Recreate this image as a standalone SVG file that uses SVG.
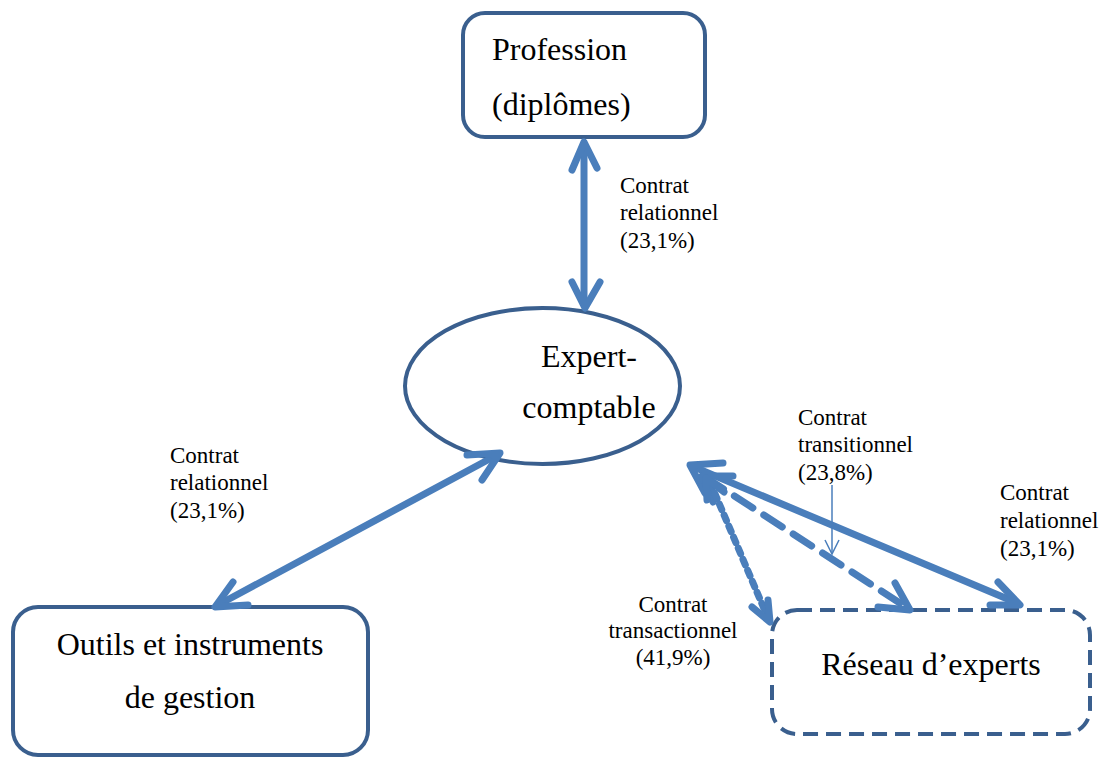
<svg xmlns="http://www.w3.org/2000/svg" width="1107" height="758" viewBox="0 0 1107 758">
<style>
.node{fill:#fff;stroke:#3a5f8e;stroke-width:4}
.big{font-family:"Liberation Serif","Times New Roman",serif;font-size:32px;fill:#000}
.sm{font-family:"Liberation Serif","Times New Roman",serif;font-size:23px;fill:#000}
.c{fill:none;stroke:#4a7ebb;stroke-width:7;stroke-linecap:round;stroke-linejoin:round}
.h{fill:none;stroke:#4a7ebb;stroke-width:7;stroke-linecap:round;stroke-linejoin:round}
</style>
<rect width="1107" height="758" fill="#fff"/>
<g id="profession">
<rect class="node" x="463" y="13" width="242" height="124" rx="22"/>
<text class="big" x="492" y="60">Profession</text>
<text class="big" x="492" y="115">(diplômes)</text>
</g>
<g id="expert">
<ellipse class="node" cx="542.5" cy="386" rx="137.5" ry="78"/>
<text class="big" x="589" y="367" text-anchor="middle">Expert-</text>
<text class="big" x="589" y="418" text-anchor="middle">comptable</text>
</g>
<g id="outils">
<rect class="node" x="13" y="607" width="355" height="148" rx="25"/>
<text class="big" x="190" y="655" text-anchor="middle">Outils et instruments</text>
<text class="big" x="190" y="708" text-anchor="middle">de gestion</text>
</g>
<g id="reseau">
<rect class="node" x="772" y="610" width="318" height="124" rx="25" stroke-dasharray="15 8"/>
<text class="big" x="931" y="675" text-anchor="middle">Réseau d’experts</text>
</g>
<g id="connectors">
<line class="c" x1="584" y1="144" x2="584" y2="304"/>
<path class="h" d="M572,170 L584,142 L597,168"/>
<path class="h" d="M572,282 L585,308 L600,282"/>
<line class="c" x1="497" y1="455" x2="218" y2="605"/>
<path class="h" d="M467,455 L500,453 L482,480"/>
<path class="h" d="M233,582 L215,607 L248,605"/>
<line class="c" x1="694" y1="467" x2="1017" y2="603"/>
<path class="h" d="M723,463 L690,465 L705,493"/>
<path class="h" d="M998,582 L1020,605 L990,605"/>
<line class="c" x1="705" y1="477" x2="906" y2="607" stroke-dasharray="22 13"/>
<path class="h" d="M895,583 L910,610 L878,607"/>
<path class="h" d="M733,476 L702,476 L713,502"/>
<line class="c" x1="710" y1="482" x2="768" y2="618" stroke-dasharray="6 6" stroke-linecap="butt"/>
<path class="h" d="M752,607 L770,622 L768,600"/>
<path class="h" d="M707,500 L706,478 L724,492"/>
<line x1="832" y1="485" x2="832" y2="553" stroke="#4a7ebb" stroke-width="1.5"/>
<path d="M825,540 L832,554 L839,540" fill="none" stroke="#4a7ebb" stroke-width="1.5"/>
</g>
<g id="labels">
<text class="sm" x="620" y="193">Contrat</text>
<text class="sm" x="620" y="220">relationnel</text>
<text class="sm" x="620" y="248">(23,1%)</text>
<text class="sm" x="170" y="463">Contrat</text>
<text class="sm" x="170" y="490">relationnel</text>
<text class="sm" x="170" y="518">(23,1%)</text>
<text class="sm" x="798" y="425">Contrat</text>
<text class="sm" x="798" y="452">transitionnel</text>
<text class="sm" x="798" y="480">(23,8%)</text>
<text class="sm" x="1000" y="500">Contrat</text>
<text class="sm" x="1000" y="528">relationnel</text>
<text class="sm" x="1000" y="556">(23,1%)</text>
<text class="sm" x="673" y="612" text-anchor="middle">Contrat</text>
<text class="sm" x="673" y="638" text-anchor="middle">transactionnel</text>
<text class="sm" x="673" y="665" text-anchor="middle">(41,9%)</text>
</g>
</svg>
